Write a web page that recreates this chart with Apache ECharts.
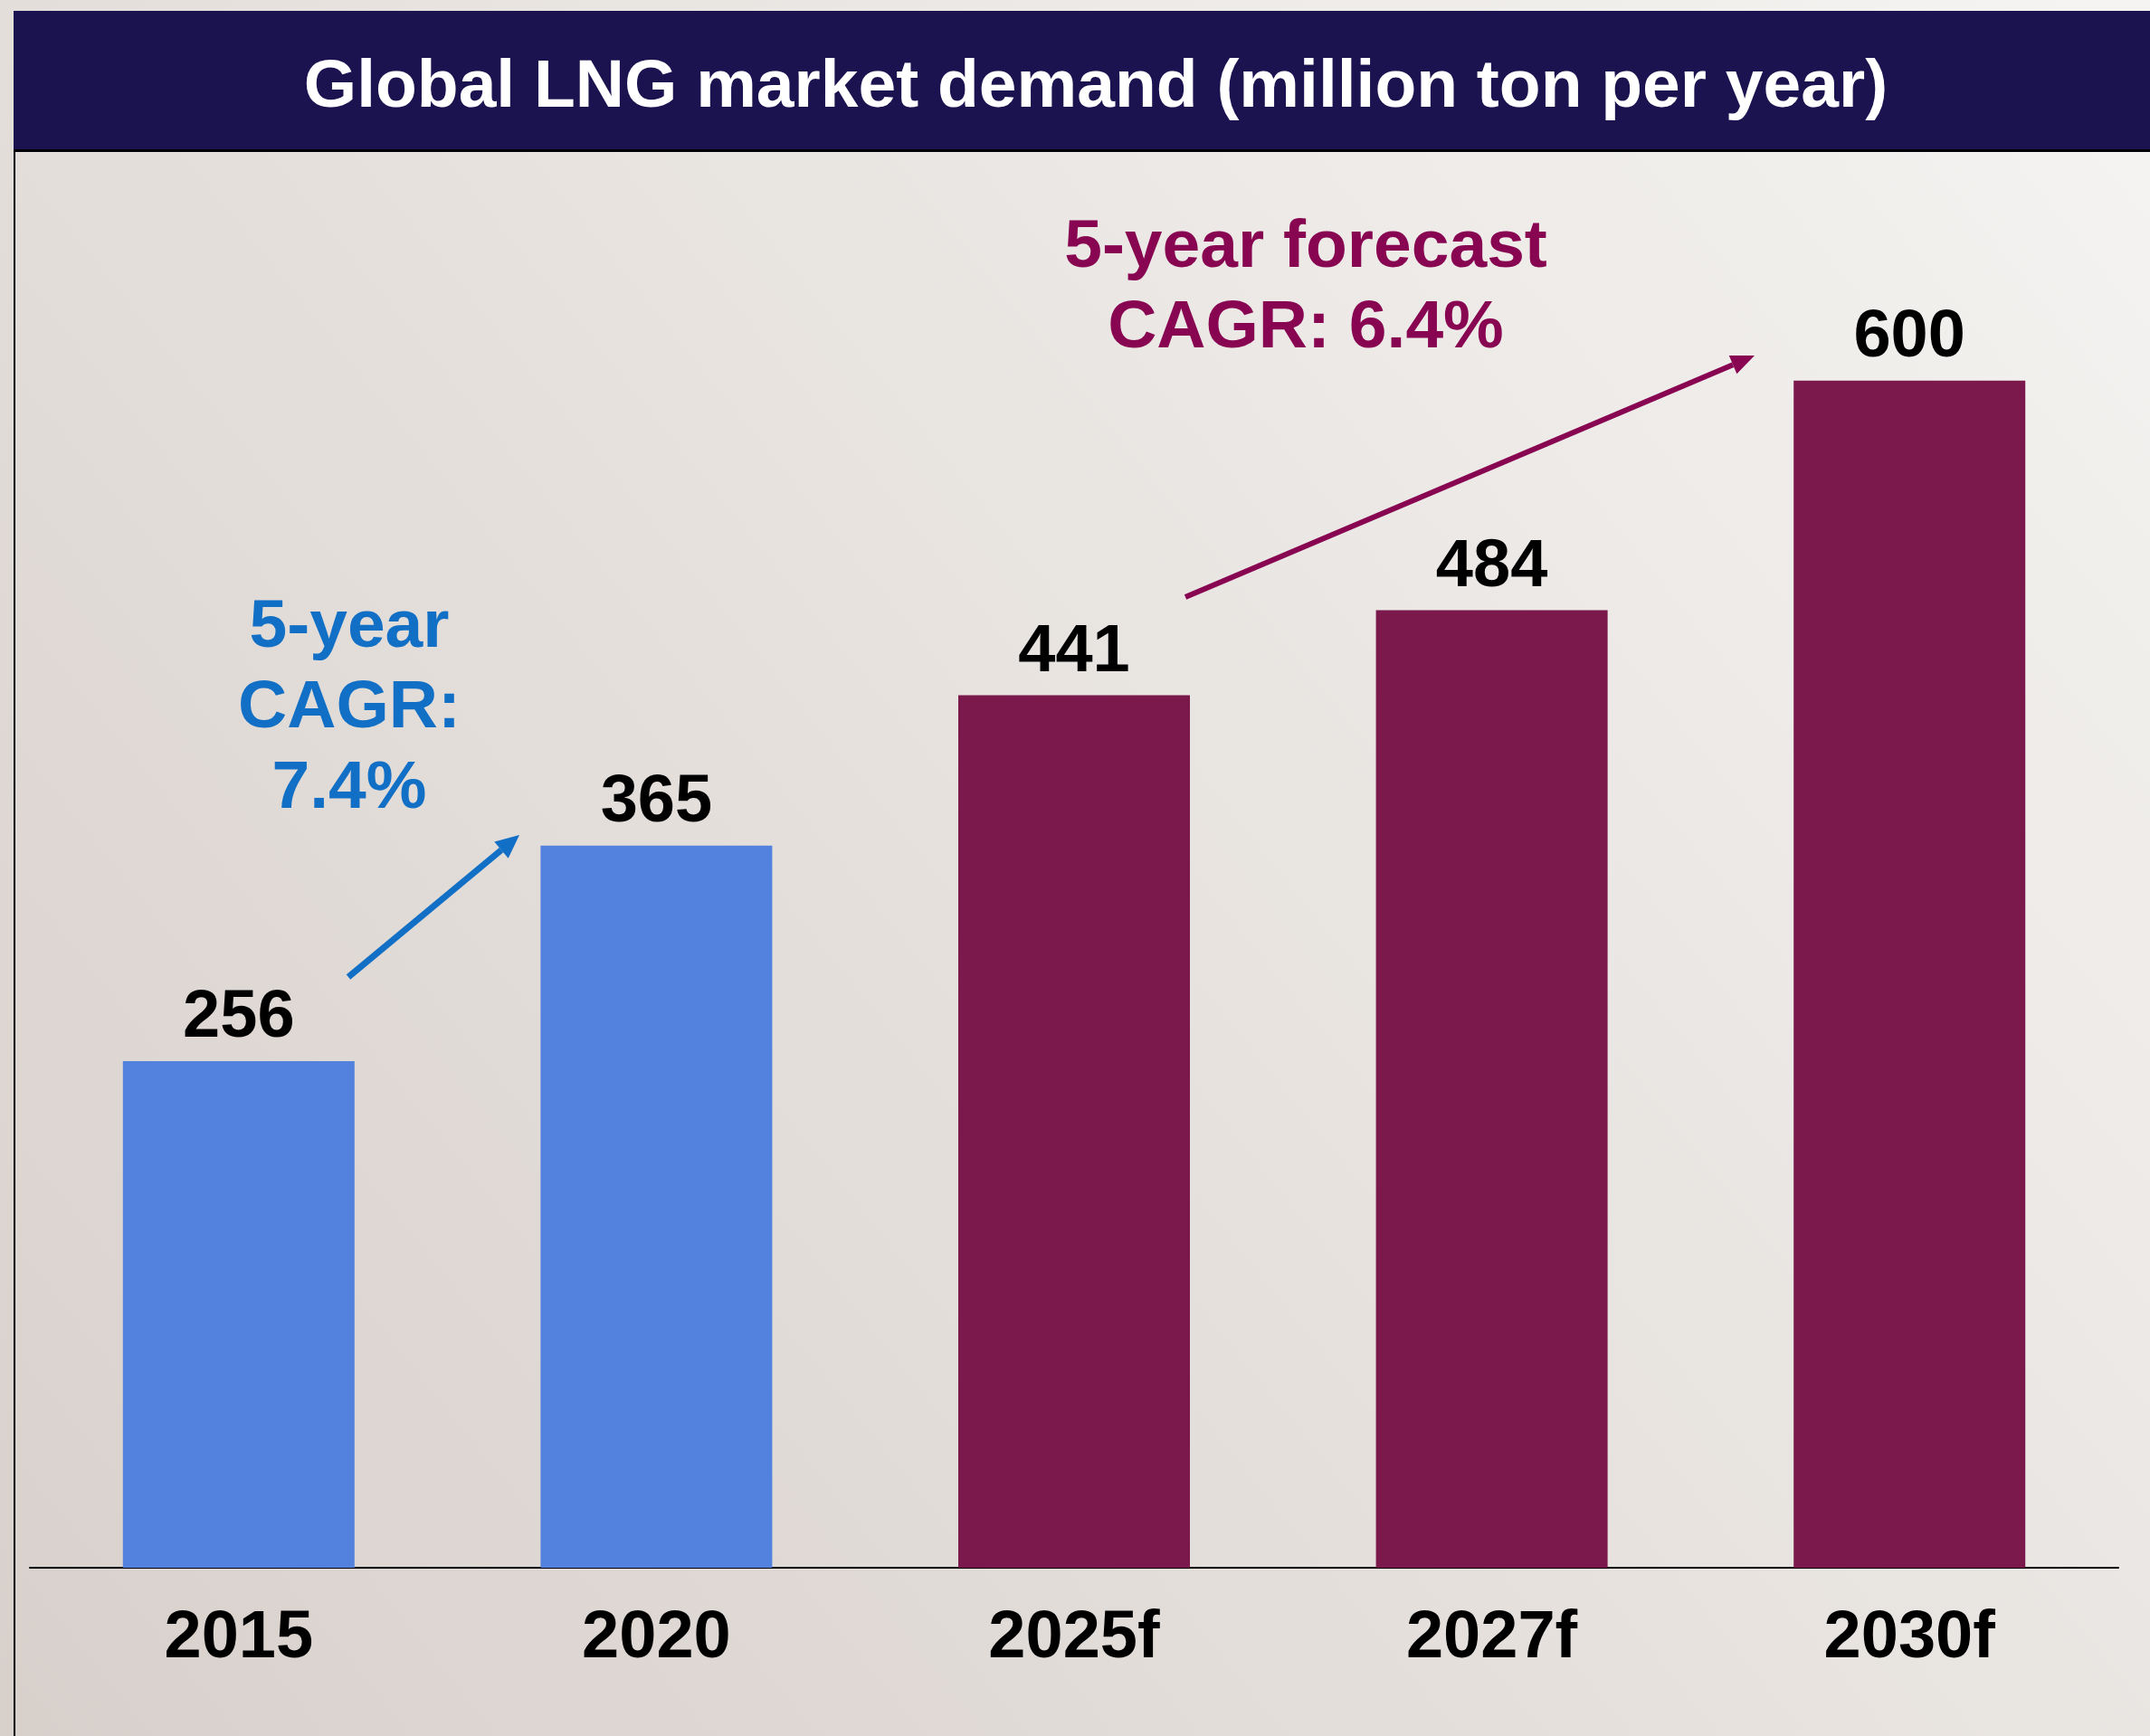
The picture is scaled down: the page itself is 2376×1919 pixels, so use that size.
<!DOCTYPE html>
<html>
<head>
<meta charset="utf-8">
<title>Global LNG market demand</title>
<script src="https://cdn.jsdelivr.net/npm/echarts@6/dist/echarts.min.js"></script>
<style>
  html, body { margin: 0; padding: 0; background: #e6e2de; }
  #chart { width: 2376px; height: 1919px; }
</style>
</head>
<body>
<div id="chart"></div>
<script>
// Demand in million tons per year; "f" marks a forecast year
const categories = ['2015', '2020', '2025f', '2027f', '2030f'];
const demand = [256, 365, 441, 484, 600];
const titleText = 'Global LNG market demand (million ton per year)';
const historicLabel = ['5-year', 'CAGR:', '7.4%'];
const forecastLabel = ['5-year forecast', 'CAGR: 6.4%'];

const W = 2376, H = 1919;
const FONT = '"Liberation Sans", Arial, Helvetica, sans-serif';
const BLUE_BAR = '#5282de';
const MAROON_BAR = '#7b194d';
const BLUE_TEXT = '#1170c6';
const MAROON_TEXT = '#880552';

const isForecast = c => /f$/.test(c);

// straight arrow: shaft plus a filled triangular head at the end point
function arrow(x1, y1, x2, y2, color, width, headLen, headHalf) {
  const dx = x2 - x1, dy = y2 - y1;
  const len = Math.hypot(dx, dy);
  const ux = dx / len, uy = dy / len;
  const bx = x2 - ux * headLen, by = y2 - uy * headLen;
  return {
    type: 'group',
    children: [
      { type: 'line', shape: { x1, y1, x2: bx, y2: by },
        style: { stroke: color, lineWidth: width } },
      { type: 'polygon',
        shape: { points: [[x2, y2], [bx - uy * headHalf, by + ux * headHalf], [bx + uy * headHalf, by - ux * headHalf]] },
        style: { fill: color } }
    ]
  };
}

const chart = echarts.init(document.getElementById('chart'), null, { renderer: 'canvas' });

chart.setOption({
  backgroundColor: {
    type: 'linear', x: 1, y: 0, x2: 0, y2: 1,
    colorStops: [
      { offset: 0, color: '#f5f4f2' },
      { offset: 1, color: '#d8d0cb' }
    ]
  },
  animation: false,
  grid: { left: 33, right: 35, top: 202, bottom: 186 },
  xAxis: {
    type: 'category',
    data: categories,
    axisLine: { lineStyle: { color: '#000', width: 2 } },
    axisTick: { show: false },
    axisLabel: { color: '#000', fontFamily: FONT, fontWeight: 'bold', fontSize: 74, margin: 42 }
  },
  yAxis: { type: 'value', min: 0, max: 700, show: false, splitLine: { show: false } },
  series: [{
    type: 'bar',
    data: demand,
    barWidth: 256,
    itemStyle: {
      color: p => isForecast(categories[p.dataIndex]) ? MAROON_BAR : BLUE_BAR
    },
    label: {
      show: true,
      position: 'top',
      distance: 10,
      color: '#000',
      fontFamily: FONT,
      fontWeight: 'bold',
      fontSize: 74
    }
  }],
  graphic: [
    // header band
    { type: 'rect', shape: { x: 15, y: 12, width: W - 15, height: 153 }, style: { fill: '#1b1250' } },
    { type: 'rect', shape: { x: 15, y: 165, width: W - 15, height: 3 }, style: { fill: '#000' } },
    { type: 'rect', shape: { x: 15, y: 165, width: 2, height: H - 165 }, style: { fill: '#000' } },
    { type: 'text', x: 1211, y: 97,
      style: { text: titleText, fill: '#fff', font: 'bold 75px ' + FONT, textAlign: 'center', textVerticalAlign: 'middle' } },
    // growth annotations
    { type: 'text', x: 386, y: 783,
      style: { text: historicLabel.join('\n'), fill: BLUE_TEXT, font: 'bold 75px ' + FONT, lineHeight: 89,
               textAlign: 'center', textVerticalAlign: 'middle' } },
    arrow(385, 1080, 574, 923, BLUE_TEXT, 7, 26, 12),
    { type: 'text', x: 1443, y: 319,
      style: { text: forecastLabel.join('\n'), fill: MAROON_TEXT, font: 'bold 75px ' + FONT, lineHeight: 89,
               textAlign: 'center', textVerticalAlign: 'middle' } },
    arrow(1310, 660, 1939, 393, MAROON_TEXT, 6, 26, 11)
  ]
});
</script>
</body>
</html>
